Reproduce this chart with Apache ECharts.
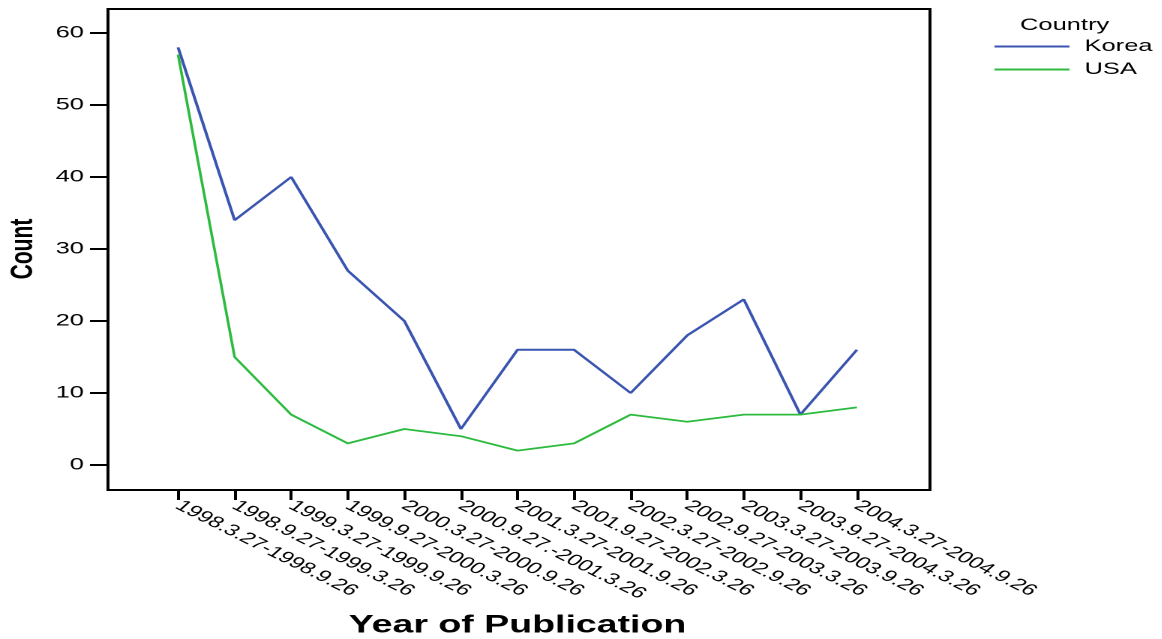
<!DOCTYPE html>
<html>
<head>
<meta charset="utf-8">
<script src="https://cdn.jsdelivr.net/npm/echarts@6/dist/echarts.min.js"></script>
<style>
  html, body { margin: 0; padding: 0; background: #fff; overflow: hidden; }
  #wrap { width: 1162px; height: 639px; overflow: hidden; }
  /* the original picture is stretched sideways, so draw narrow and widen */
  #chart { width: 775px; height: 639px; transform: scaleX(1.5); transform-origin: 0 0; }
</style>
</head>
<body>
<div id="wrap"><div id="chart"></div></div>
<script>
// periods on the x axis
const periods = [
  '1998.3.27-1998.9.26', '1998.9.27-1999.3.26', '1999.3.27-1999.9.26',
  '1999.9.27-2000.3.26', '2000.3.27-2000.9.26', '2000.9.27.-2001.3.26',
  '2001.3.27-2001.9.26', '2001.9.27-2002.3.26', '2002.3.27-2002.9.26',
  '2002.9.27-2003.3.26', '2003.3.27-2003.9.26', '2003.9.27-2004.3.26',
  '2004.3.27-2004.9.26'
];
const korea = [58, 34, 40, 27, 20, 5, 16, 16, 10, 18, 23, 7, 16];
const usa = [57, 15, 7, 3, 5, 4, 2, 3, 7, 6, 7, 7, 8];

const font = 'Liberation Sans, Arial, sans-serif';

const chart = echarts.init(document.getElementById('chart'), null, { devicePixelRatio: 2 });
chart.setOption({
  animation: false,
  title: {
    text: 'Country',
    left: 680, top: 17,
    padding: 0,
    textStyle: { fontFamily: font, fontSize: 17, fontWeight: 'normal', color: '#000' }
  },
  legend: {
    data: ['Korea', 'USA'],
    orient: 'vertical',
    left: 663, top: 38,
    padding: 0,
    icon: 'rect',
    itemWidth: 50, itemHeight: 2,
    itemGap: 6,
    textStyle: { fontFamily: font, fontSize: 17, color: '#000', padding: [0, 0, 0, 5] }
  },
  grid: [
    // frame
    { left: 72, right: 155, top: 9, bottom: 149, show: true, borderColor: '#000', borderWidth: 2, backgroundColor: 'transparent', outerBoundsMode: 'none', containLabel: false },
    // data area
    { left: 118.7, right: 203.7, top: 33, bottom: 174, outerBoundsMode: 'none', containLabel: false },
    // x axis strip along the bottom of the frame
    { left: 118.7, right: 203.7, top: 400, bottom: 149, outerBoundsMode: 'none', containLabel: false }
  ],
  xAxis: [
    { gridIndex: 0, type: 'value', show: false, min: 0, max: 1 },
    { gridIndex: 1, type: 'category', data: periods, boundaryGap: false, show: false },
    {
      gridIndex: 2,
      type: 'category',
      data: periods,
      boundaryGap: false,
      axisLine: { show: false },
      axisTick: { show: true, length: 10, lineStyle: { color: '#000', width: 2 } },
      axisLabel: { rotate: -37, interval: 0, margin: 14, fontFamily: font, fontSize: 16, color: '#000' },
      splitLine: { show: false },
      name: 'Year of Publication',
      nameLocation: 'middle',
      nameGap: 123,
      nameTextStyle: { fontFamily: font, fontSize: 25, fontWeight: 'bold', color: '#000' }
    }
  ],
  yAxis: [
    { gridIndex: 0, type: 'value', show: false, min: 0, max: 1 },
    {
      gridIndex: 1,
      type: 'value',
      min: 0, max: 60, interval: 10,
      offset: 46.7,
      axisLine: { show: false },
      axisTick: { show: true, length: 12, lineStyle: { color: '#000', width: 2 } },
      axisLabel: { margin: 16, fontFamily: font, fontSize: 17, color: '#000' },
      splitLine: { show: false },
      name: 'Count',
      nameLocation: 'middle',
      nameGap: 45,
      nameRotate: 90,
      nameTextStyle: { fontFamily: font, fontSize: 21, fontWeight: 'bold', color: '#000' }
    },
    { gridIndex: 2, type: 'value', show: false }
  ],
  series: [
    {
      name: 'Korea', type: 'line', xAxisIndex: 1, yAxisIndex: 1,
      data: korea, symbol: 'none',
      itemStyle: { color: '#3a55b0' },
      lineStyle: { color: '#3a55b0', width: 2 }
    },
    {
      name: 'USA', type: 'line', xAxisIndex: 1, yAxisIndex: 1,
      data: usa, symbol: 'none',
      itemStyle: { color: '#2dbb3f' },
      lineStyle: { color: '#2dbb3f', width: 1.8 }
    }
  ]
});
</script>
</body>
</html>
